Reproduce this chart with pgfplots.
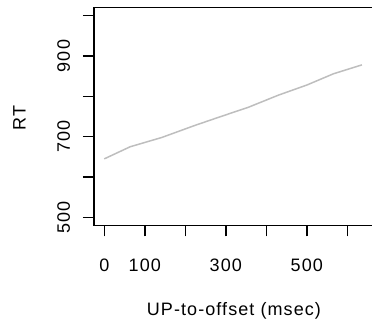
\documentclass[border=0pt]{standalone}
\usepackage{fontspec}
\setmainfont{Liberation Sans}[LetterSpace=6]
\usepackage{pgfplots}
\pgfplotsset{compat=1.18}
\definecolor{rtline}{RGB}{190,190,190}
\begin{document}
\begin{tikzpicture}
\useasboundingbox (-93.9pt,-98.6pt) rectangle (278.1pt,225.4pt);
\clip (-93.9pt,-98.6pt) rectangle (278.1pt,225.4pt);
\begin{axis}[
  at={(0,0)}, anchor=south west,
  scale only axis, width=280pt, height=217.8pt,
  xmin=-25.6, xmax=665.6, ymin=480, ymax=1020,
  axis line style={line width=1.5pt},
  every tick/.style={black, line width=1.5pt},
  tick align=outside, major tick length=11pt,
  xtick={0,100,...,600}, xticklabels={0,100,,300,,500,},
  ytick={500,600,...,1000}, yticklabels={500,,700,,900,},
  xtick pos=bottom, ytick pos=left,
  /pgf/number format/assume math mode=true,
  tick label style={font=\fontsize{18}{20}\selectfont, inner sep=0pt},
  label style={font=\fontsize{18}{20}\selectfont, inner sep=0pt},
  xticklabel style={anchor=base, yshift=-35.3pt},
  yticklabel style={xshift=-12.9pt, rotate=90, anchor=base},
  xlabel={UP-to-offset (msec)},
  ylabel={RT},
  xlabel style={at={(axis description cs:0.5,-0.4114)}, anchor=base},
  ylabel style={at={(axis description cs:-0.2436,0.492)}, anchor=base},
]
\addplot[rtline, line width=1.5pt] coordinates {
  (0,645) (64,675) (142,698) (224,728) (288,750) (356,773)
  (430,803) (500,828) (566,856) (636,878)
};
\end{axis}
\end{tikzpicture}
\end{document}
